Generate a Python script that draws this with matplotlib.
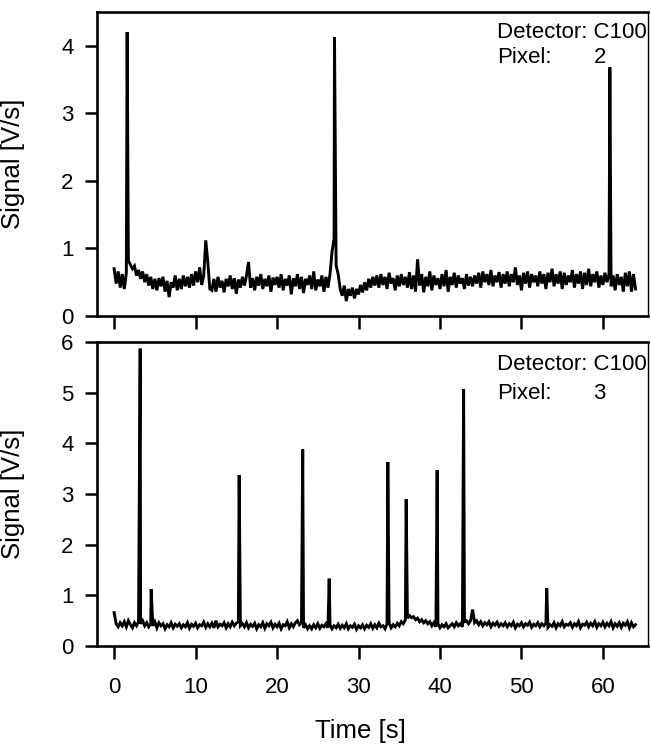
import numpy as np
import matplotlib.pyplot as plt

plt.rcParams['font.family'] = ['Liberation Sans', 'DejaVu Sans']

# sampling step of the baseline traces [s]
dt = 0.25

# pixel 2: baseline trace, one row = 4 s
base_px2 = [
    0.70, 0.48, 0.66, 0.42, 0.62, 0.40, 0.64, 0.82, 0.76, 0.70, 0.74, 0.60, 0.68, 0.55, 0.66, 0.50,
    0.62, 0.45, 0.58, 0.40, 0.55, 0.38, 0.56, 0.44, 0.58, 0.36, 0.52, 0.28, 0.50, 0.42, 0.60, 0.38,
    0.55, 0.40, 0.60, 0.44, 0.58, 0.42, 0.62, 0.45, 0.66, 0.50, 0.72, 0.46, 0.60, 1.12, 0.80, 0.40,
    0.38, 0.55, 0.36, 0.58, 0.42, 0.52, 0.35, 0.55, 0.44, 0.60, 0.40, 0.56, 0.33, 0.54, 0.42, 0.58,
    0.45, 0.60, 0.80, 0.42, 0.56, 0.38, 0.58, 0.45, 0.62, 0.40, 0.55, 0.44, 0.60, 0.36, 0.57, 0.46,
    0.58, 0.42, 0.62, 0.38, 0.55, 0.45, 0.60, 0.32, 0.56, 0.44, 0.62, 0.40, 0.58, 0.34, 0.55, 0.46,
    0.60, 0.40, 0.66, 0.38, 0.54, 0.44, 0.60, 0.36, 0.58, 0.42, 0.62, 0.95, 1.15, 0.75, 0.62, 0.40,
    0.30, 0.45, 0.22, 0.40, 0.30, 0.42, 0.26, 0.40, 0.32, 0.46, 0.35, 0.50, 0.38, 0.55, 0.42, 0.58,
    0.45, 0.60, 0.42, 0.62, 0.46, 0.58, 0.40, 0.64, 0.48, 0.56, 0.38, 0.60, 0.44, 0.62, 0.46, 0.58,
    0.42, 0.65, 0.40, 0.60, 0.36, 0.84, 0.45, 0.62, 0.35, 0.58, 0.44, 0.66, 0.38, 0.60, 0.46, 0.56,
    0.40, 0.62, 0.44, 0.68, 0.36, 0.58, 0.46, 0.64, 0.42, 0.60, 0.48, 0.56, 0.40, 0.62, 0.45, 0.58,
    0.44, 0.60, 0.48, 0.64, 0.42, 0.66, 0.50, 0.62, 0.46, 0.68, 0.44, 0.60, 0.50, 0.65, 0.42, 0.62,
    0.48, 0.66, 0.44, 0.62, 0.50, 0.72, 0.46, 0.60, 0.38, 0.64, 0.48, 0.66, 0.42, 0.62, 0.50, 0.60,
    0.44, 0.66, 0.48, 0.62, 0.40, 0.64, 0.50, 0.70, 0.44, 0.62, 0.48, 0.66, 0.40, 0.64, 0.46, 0.60,
    0.50, 0.68, 0.42, 0.62, 0.48, 0.66, 0.40, 0.64, 0.46, 0.70, 0.44, 0.62, 0.50, 0.66, 0.42, 0.60,
    0.46, 0.64, 0.50, 0.62, 0.44, 0.60, 0.38, 0.62, 0.46, 0.58, 0.36, 0.64, 0.44, 0.66, 0.36, 0.62,
    0.40,
]
spike_t_px2 = [1.6, 27.05, 60.85]
spike_h_px2 = [4.20, 4.13, 3.68]

# pixel 3
base_px3 = [
    0.66, 0.44, 0.38, 0.46, 0.40, 0.48, 0.38, 0.50, 0.42, 0.36, 0.46, 0.40, 0.48, 0.44, 0.50, 0.40,
    0.46, 0.38, 0.44, 0.40, 0.48, 0.36, 0.46, 0.40, 0.44, 0.34, 0.42, 0.38, 0.46, 0.36, 0.43, 0.39,
    0.44, 0.36, 0.42, 0.38, 0.46, 0.35, 0.43, 0.39, 0.45, 0.36, 0.42, 0.40, 0.47, 0.37, 0.44, 0.38,
    0.45, 0.36, 0.50, 0.38, 0.43, 0.40, 0.46, 0.36, 0.44, 0.38, 0.47, 0.40, 0.45, 0.48, 0.40, 0.44,
    0.38, 0.46, 0.36, 0.43, 0.39, 0.45, 0.34, 0.42, 0.38, 0.46, 0.35, 0.44, 0.40, 0.47, 0.36, 0.43,
    0.38, 0.45, 0.34, 0.42, 0.40, 0.48, 0.36, 0.44, 0.38, 0.46, 0.50, 0.42, 0.46, 0.36, 0.42, 0.34,
    0.40, 0.34, 0.42, 0.36, 0.44, 0.35, 0.41, 0.38, 0.44, 0.36, 0.42, 0.34, 0.40, 0.36, 0.43, 0.35,
    0.41, 0.36, 0.44, 0.34, 0.40, 0.37, 0.43, 0.33, 0.40, 0.36, 0.42, 0.34, 0.41, 0.37, 0.44, 0.35,
    0.42, 0.36, 0.45, 0.38, 0.40, 0.34, 0.44, 0.46, 0.36, 0.42, 0.38, 0.45, 0.40, 0.48, 0.44, 0.52,
    0.55, 0.60, 0.56, 0.58, 0.52, 0.55, 0.48, 0.52, 0.46, 0.50, 0.44, 0.48, 0.40, 0.46, 0.38, 0.44,
    0.36, 0.42, 0.38, 0.44, 0.36, 0.40, 0.44, 0.38, 0.46, 0.40, 0.44, 0.38, 0.48, 0.50, 0.44, 0.50,
    0.72, 0.46, 0.50, 0.42, 0.48, 0.40, 0.46, 0.42, 0.48, 0.38, 0.45, 0.41, 0.47, 0.39, 0.44, 0.40,
    0.46, 0.38, 0.44, 0.40, 0.47, 0.36, 0.43, 0.40, 0.46, 0.38, 0.44, 0.41, 0.47, 0.37, 0.43, 0.40,
    0.46, 0.38, 0.44, 0.40, 0.45, 0.37, 0.42, 0.39, 0.46, 0.36, 0.44, 0.40, 0.48, 0.38, 0.43, 0.41,
    0.46, 0.37, 0.44, 0.40, 0.48, 0.36, 0.43, 0.41, 0.47, 0.38, 0.45, 0.40, 0.48, 0.37, 0.44, 0.40,
    0.47, 0.38, 0.45, 0.40, 0.48, 0.36, 0.44, 0.39, 0.46, 0.37, 0.45, 0.41, 0.48, 0.36, 0.46, 0.38,
    0.42,
]
spike_t_px3 = [3.2, 4.55, 15.35, 23.15, 26.4, 33.6, 35.85, 39.65, 42.9, 53.1]
spike_h_px3 = [5.87, 1.12, 3.37, 3.88, 1.33, 3.63, 2.90, 3.47, 5.07, 1.14]

x_ticks = [0, 10, 20, 30, 40, 50, 60]


def trace(base, spike_t, spike_h):
    t = np.arange(len(base)) * dt
    tt = np.concatenate([t, spike_t])
    yy = np.concatenate([base, spike_h])
    order = np.argsort(tt, kind='stable')
    return tt[order], yy[order]


fig = plt.figure(figsize=(6.51, 7.46), dpi=100)
ax1 = fig.add_axes([0.149, 0.5764, 0.846, 0.4075])
ax2 = fig.add_axes([0.149, 0.1340, 0.846, 0.4075])

panels = [
    (ax1, base_px2, spike_t_px2, spike_h_px2, 4.5, [0, 1, 2, 3, 4], '2', 0.914, 0.832),
    (ax2, base_px3, spike_t_px3, spike_h_px3, 6.0, [0, 1, 2, 3, 4, 5, 6], '3', 0.908, 0.8125),
]

for ax, base, st, sh, ytop, yt, pix, yd, yp in panels:
    t, y = trace(base, st, sh)
    ax.plot(t, y, color='black', lw=2.1, solid_joinstyle='miter')
    ax.set_xlim(-2.1, 65.5)
    ax.set_ylim(0, ytop)
    ax.set_xticks(x_ticks)
    ax.set_yticks(yt)
    ax.tick_params(direction='out', length=9, width=1.8, labelsize=16)
    ax.tick_params(axis='x', pad=13)
    ax.tick_params(axis='y', pad=8)
    for side in ['left', 'bottom', 'top']:
        ax.spines[side].set_linewidth(1.9)
    ax.spines['right'].set_linewidth(1.0)
    ax.set_ylabel('Signal [V/s]', fontsize=18.5)
    ax.yaxis.set_label_coords(-0.131, 0.5)
    ax.text(0.726, yd, 'Detector: C100', transform=ax.transAxes, fontsize=16, va='baseline')
    ax.text(0.726, yp, 'Pixel:', transform=ax.transAxes, fontsize=16, va='baseline')
    ax.text(0.924, yp, pix, transform=ax.transAxes, fontsize=16, va='baseline', ha='right')

ax1.tick_params(axis='x', labelbottom=False)
fig.text(0.553, 0.02, 'Time [s]', fontsize=18.5, ha='center', va='center')

fig.savefig('out.png', dpi=100)
